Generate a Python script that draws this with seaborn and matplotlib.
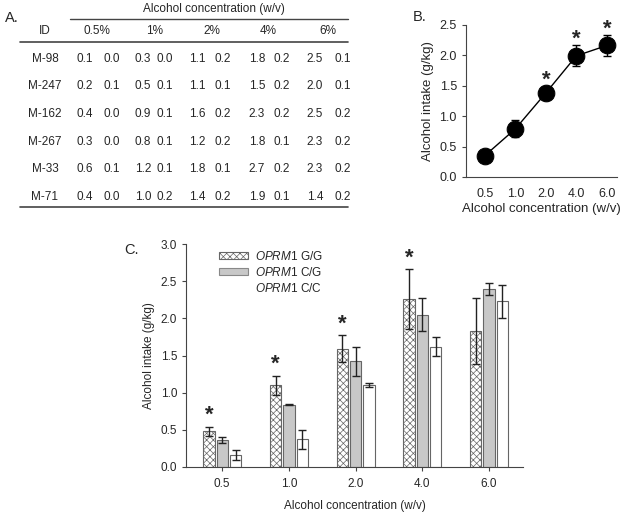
import numpy as np
import pandas as pd
import matplotlib
matplotlib.use("Agg")
import matplotlib.pyplot as plt
from matplotlib.patches import Patch
import seaborn as sns

# panel A: table of mean / sem per animal and concentration
table_ids = ['M-98', 'M-247', 'M-162', 'M-267', 'M-33', 'M-71']
table_heads = ['0.5%', '1%', '2%', '4%', '6%']
table_vals = [
    ['0.1', '0.0', '0.3', '0.0', '1.1', '0.2', '1.8', '0.2', '2.5', '0.1'],
    ['0.2', '0.1', '0.5', '0.1', '1.1', '0.1', '1.5', '0.2', '2.0', '0.1'],
    ['0.4', '0.0', '0.9', '0.1', '1.6', '0.2', '2.3', '0.2', '2.5', '0.2'],
    ['0.3', '0.0', '0.8', '0.1', '1.2', '0.2', '1.8', '0.1', '2.3', '0.2'],
    ['0.6', '0.1', '1.2', '0.1', '1.8', '0.1', '2.7', '0.2', '2.3', '0.2'],
    ['0.4', '0.0', '1.0', '0.2', '1.4', '0.2', '1.9', '0.1', '1.4', '0.2'],
]

# panel B: group mean intake
b_conc = ['0.5', '1.0', '2.0', '4.0', '6.0']
b_mean = [0.35, 0.79, 1.38, 1.99, 2.16]
b_sem = [0.05, 0.14, 0.11, 0.17, 0.17]
b_star = [False, False, True, True, True]

# panel C: intake by OPRM1 genotype
c_conc = ['0.5', '1.0', '2.0', '4.0', '6.0']
c_geno = ['G/G', 'C/G', 'C/C']
c_gg = [0.48, 1.10, 1.59, 2.26, 1.83]
c_cg = [0.36, 0.84, 1.42, 2.05, 2.39]
c_cc = [0.16, 0.37, 1.10, 1.62, 2.23]
c_gg_sem = [0.06, 0.13, 0.18, 0.40, 0.45]
c_cg_sem = [0.04, 0.01, 0.19, 0.22, 0.08]
c_cc_sem = [0.07, 0.13, 0.03, 0.13, 0.22]
c_star = [True, True, True, True, False]

sns.set_style("ticks")
plt.rcParams['font.family'] = ['Liberation Sans', 'DejaVu Sans']
plt.rcParams['mathtext.fontset'] = 'custom'
plt.rcParams['mathtext.it'] = 'Liberation Sans:italic'
plt.rcParams['mathtext.rm'] = 'Liberation Sans'
plt.rcParams['hatch.linewidth'] = 0.5
axcol = '#444444'
fs = 8.5

fig = plt.figure(figsize=(6.27, 5.16), dpi=100)

# ---- A: table drawn as text in pixel coords
axa = fig.add_axes([0, 0, 1, 1])
axa.set_xlim(0, 627)
axa.set_ylim(516, 0)
axa.axis('off')
axa.text(5, 18, 'A.', fontsize=10.5, va='center')
axa.text(214, 9, 'Alcohol concentration (w/v)', fontsize=fs, ha='center', va='center')
axa.plot([70, 348], [19, 19], color=axcol, lw=1)
axa.text(45, 31, 'ID', fontsize=fs, ha='center', va='center')
head_x = [97, 155, 212, 268, 328]
for hx, h in zip(head_x, table_heads):
    axa.text(hx, 31, h, fontsize=fs, ha='center', va='center')
axa.plot([20, 348], [42, 42], color=axcol, lw=1.2)
col_x = [85, 112, 143, 165, 197, 223, 257, 282, 315, 343]
row_y = [59, 86, 114, 142, 169, 197]
for ry, rid, vals in zip(row_y, table_ids, table_vals):
    axa.text(45, ry, rid, fontsize=fs, ha='center', va='center')
    for cx, v in zip(col_x, vals):
        axa.text(cx, ry, v, fontsize=fs, ha='center', va='center')
axa.plot([20, 348], [207, 207], color=axcol, lw=1.2)
axa.text(413, 17, 'B.', fontsize=10.5, va='center')
axa.text(124, 250, 'C.', fontsize=10.5, va='center')

# ---- B: point plot
axb = fig.add_axes([0.743, 0.657, 0.241, 0.295])
sns.pointplot(x=b_conc, y=b_mean, color='black', errorbar=None,
              markersize=12, linewidth=1, ax=axb)
xs = axb.lines[0].get_xdata()
axb.errorbar(xs, b_mean, yerr=b_sem, fmt='none', ecolor='black',
             elinewidth=1, capsize=3, zorder=1)
for x, m, s, st in zip(xs, b_mean, b_sem, b_star):
    if st:
        axb.text(x, m + s - 0.07, '*', ha='center', va='bottom',
                 fontsize=16, fontweight='bold')
axb.set_xlim(-0.62, 4.33)
axb.set_ylim(0, 2.5)
axb.set_yticks(np.arange(0, 2.51, 0.5))
axb.set_ylabel('Alcohol intake (g/kg)', fontsize=9.5)
axb.set_xlabel('Alcohol concentration (w/v)', fontsize=9.5, labelpad=2)
axb.tick_params(axis='x', length=0, labelsize=9, pad=8)
axb.tick_params(axis='y', length=3, labelsize=9, color=axcol)
sns.despine(ax=axb)

# ---- C: grouped bars
df = pd.DataFrame({
    'conc': c_conc * 3,
    'geno': np.repeat(c_geno, len(c_conc)),
    'intake': c_gg + c_cg + c_cc,
})
axc = fig.add_axes([0.297, 0.095, 0.537, 0.432])
pal = {'G/G': 'white', 'C/G': '#c8c8c8', 'C/C': 'white'}
sns.barplot(data=df, x='conc', y='intake', hue='geno', hue_order=c_geno,
            palette=pal, width=0.6, gap=0.15, errorbar=None,
            edgecolor='#666666', linewidth=0.8, legend=False, ax=axc)
sems = [c_gg_sem, c_cg_sem, c_cc_sem]
bar_conts = list(axc.containers)
for i, cont in enumerate(bar_conts):
    cx = [p.get_x() + p.get_width() / 2 for p in cont]
    hs = [p.get_height() for p in cont]
    if i == 0:
        for p in cont:
            p.set_hatch('xxxxx')
    axc.errorbar(cx, hs, yerr=sems[i], fmt='none', ecolor='#222222',
                 elinewidth=1, capsize=3)
    if i == 0:
        for x, h, s, st in zip(cx, hs, sems[i], c_star):
            if st:
                axc.text(x, h + s + 0.01, '*', ha='center', va='bottom',
                         fontsize=16, fontweight='bold')
axc.set_xlim(-0.54, 4.51)
axc.set_ylim(0, 3.0)
axc.set_yticks(np.arange(0, 3.01, 0.5))
axc.set_ylabel('Alcohol intake (g/kg)', fontsize=8.5)
axc.set_xlabel('Alcohol concentration (w/v)', fontsize=8.5, labelpad=7)
axc.tick_params(length=3, labelsize=8.5, color=axcol)
axc.tick_params(axis='x', pad=5)
sns.despine(ax=axc)
for a in (axb, axc):
    for sp in a.spines.values():
        sp.set_color(axcol)

handles = [Patch(facecolor='white', edgecolor='#666666', hatch='xxxxx', lw=0.8),
           Patch(facecolor='#c8c8c8', edgecolor='#888888', lw=0.8),
           Patch(facecolor='white', edgecolor='white', lw=0.8)]
labels = [r'$\it{OPRM1}$ ' + g for g in c_geno]
axc.legend(handles, labels, loc='upper left', bbox_to_anchor=(0.098, 0.975),
           frameon=False, fontsize=8.5, handlelength=2.4, handleheight=0.5,
           labelspacing=0.25, handletextpad=0.6, borderpad=0, borderaxespad=0)

fig.savefig('out.png', dpi=100)
